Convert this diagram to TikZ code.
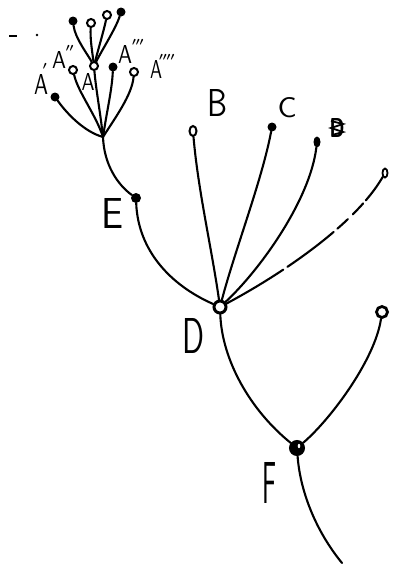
\documentclass[tikz,border=0pt]{standalone}
\usepackage{graphicx}
\usetikzlibrary{shapes.geometric}
\begin{document}
\begin{tikzpicture}[x=1pt,y=-1pt,
  br/.style={line width=2.1pt, line cap=round},
  fdot/.style={ellipse, fill=black, inner sep=0pt, minimum width=#1, minimum height=#1},
  odot/.style={circle, draw=black, line width=2pt, fill=white, inner sep=0pt, minimum size=#1},
  lab/.style={inner sep=0pt, font=\sffamily},
  mk/.style={inner sep=0pt, font=\fontsize{16}{16}\selectfont\boldmath},
]
\useasboundingbox[fill=white] (0,0) rectangle (392,568);

% ---------- top cluster ----------
\coordinate (J) at (103,137);
\node[odot=8pt] (Ah) at (94,66) {};
\node[fdot=9pt] (t1) at (73,21) {};
\node[odot=8pt] (t2) at (91,23) {};
\node[odot=8pt] (t3) at (107,15) {};
\node[fdot=9pt] (t4) at (121,12) {};
\node[fdot=9pt] (a1) at (55,97) {};
\node[odot=8pt] (a2) at (73,70) {};
\node[fdot=9pt] (a3) at (113,67) {};
\node[odot=8pt] (a4) at (134,72) {};

\draw[br] (J) .. controls (85,132) and (68,115) .. (a1);
\draw[br] (J) .. controls (96,115) and (78,92) .. (a2);
\draw[br] (J) .. controls (100,110) and (96,90) .. (Ah);
\draw[br] (J) .. controls (107,110) and (112,90) .. (a3);
\draw[br] (J) .. controls (115,118) and (132,95) .. (a4);
\draw[br] (Ah) .. controls (88,55) and (75,38) .. (t1);
\draw[br] (Ah) .. controls (92,50) and (90,38) .. (t2);
\draw[br] (Ah) .. controls (98,50) and (104,30) .. (t3);
\draw[br] (Ah) .. controls (102,50) and (116,28) .. (t4);

\node[lab] (lA1) at (41,84) {\resizebox{14pt}{20pt}{A}};
\node[mk] (lA1p) at (45,70) {$'$};
\node[lab] (lA2) at (59,60) {\resizebox{14pt}{17pt}{A}};
\node[mk] (lA2p) at (70,52) {$''$};
\node[lab] (lA) at (88,82) {\resizebox{13pt}{17pt}{A}};
\node[lab] (lA3) at (125,54) {\resizebox{14pt}{18pt}{A}};
\node[mk] (lA3p) at (138,46) {$'''$};
\node[lab] (lA4) at (156,69) {\resizebox{12pt}{18pt}{A}};
\node[mk] (lA4p) at (167,61) {$''''$};

% stray marks
\draw[line width=1.8pt] (9,36) -- (17,36);
\fill (37,35) circle (1.4);

% ---------- trunk ----------
\node[fdot=10pt] (E) at (136,198) {};
\node[circle, draw=black, line width=3pt, fill=white, inner sep=0pt, minimum size=12pt] (D) at (220,307) {};
\node[circle, draw=black, line width=2pt, fill=black, inner sep=0pt, minimum size=14pt] (F) at (297,448) {};
\fill[white] (299,446) ellipse (1.3 and 2.2);
\coordinate (bot) at (342,563);

\draw[br] (J) .. controls (104,165) and (118,185) .. (E);
\draw[br] (E) .. controls (138,250) and (170,285) .. (D);
\draw[br] (D) .. controls (222,360) and (250,410) .. (F);
\draw[br] (F) .. controls (300,490) and (315,530) .. (bot);

% ---------- leaves of D ----------
\node[ellipse, draw=black, line width=2pt, fill=white, inner sep=0pt, minimum width=7pt, minimum height=10pt] (B) at (193,131) {};
\node[fdot=9pt] (C) at (272,127) {};
\node[ellipse, fill=black, inner sep=0pt, minimum width=7pt, minimum height=11pt] (X) at (317,142) {};
\node[ellipse, draw=black, line width=1.8pt, fill=white, inner sep=0pt, minimum width=5pt, minimum height=9pt] (G) at (385,173) {};

\draw[br] (D) .. controls (212,250) and (198,190) .. (B);
\draw[br] (D) .. controls (235,250) and (262,180) .. (C);
\draw[br] (D) .. controls (260,270) and (310,200) .. (X);
\draw[br, dash pattern=on 66pt off 5pt on 58pt off 5pt on 14pt off 7pt on 15pt off 4pt on 60pt]
  (D) .. controls (280,275) and (355,225) .. (G);

\node[lab] (lB) at (217,103) {\resizebox{20pt}{27pt}{B}};
\node[lab] (lC) at (287,108) {\resizebox{19pt}{20pt}{C}};
\node[lab] (lX) at (337,128) {\resizebox{15pt}{19pt}{\bfseries D}};
\draw[line width=1.8pt] (331,121) -- (343,124) -- (331,128) -- (343,132) -- (332,135);
\node[lab] (lE) at (113,213) {\resizebox{22pt}{30pt}{E}};
\node[lab] (lD) at (194,336) {\resizebox{22pt}{35pt}{D}};
\node[lab] (lF) at (269,483) {\resizebox{14pt}{41pt}{F}};

% ---------- right branch of F ----------
\node[circle, draw=black, line width=2.8pt, fill=white, inner sep=0pt, minimum size=11pt] (R) at (382,312) {};
\draw[br] (F) .. controls (330,420) and (375,360) .. (R);
\end{tikzpicture}
\end{document}
